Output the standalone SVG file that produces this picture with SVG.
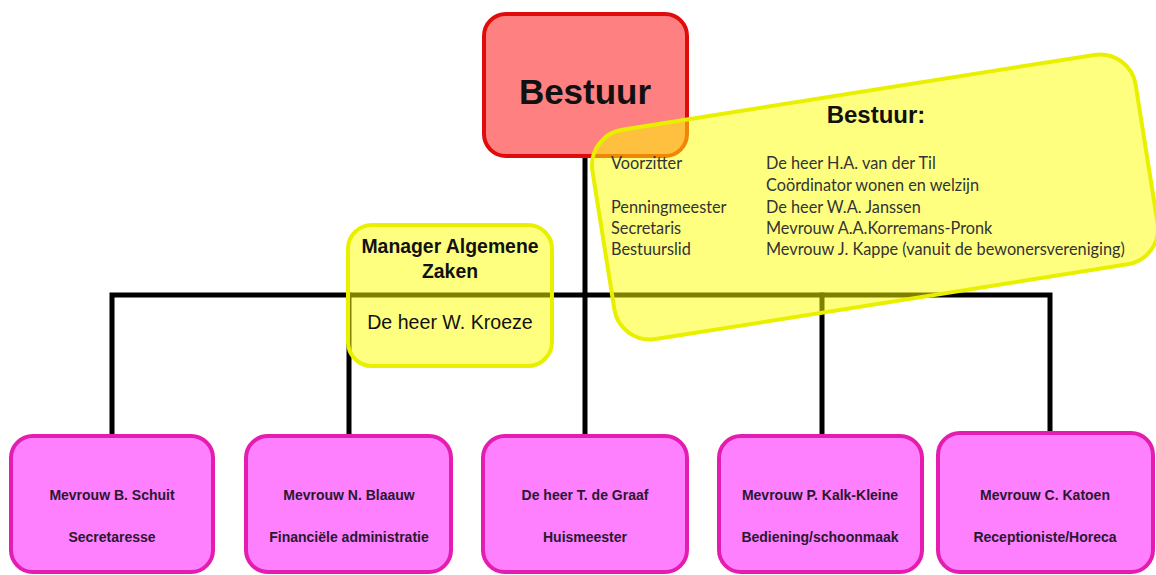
<svg xmlns="http://www.w3.org/2000/svg" width="1156" height="575" viewBox="0 0 1156 575">
<style>
.conn{stroke:#000;stroke-width:5;fill:none;stroke-linecap:square}
.staff rect{fill:#ff80ff;stroke:#e41cb0;stroke-width:4}
.staff text{font-family:"Liberation Sans",Arial,sans-serif;font-weight:bold;font-size:14px;fill:#2a1830;text-anchor:middle}
.yel{fill:#ffff00;fill-opacity:0.5;stroke:#e8f000;stroke-width:4}
.b{font-family:"Liberation Sans",Arial,sans-serif;font-weight:bold;fill:#111;text-anchor:middle}
.cal{font-family:Lato,"Liberation Sans",sans-serif;font-size:16.3px;fill:#333}
</style>
<rect width="1156" height="575" fill="#fff"/>
<g id="connectors">
<line class="conn" x1="585" y1="157" x2="585" y2="436"/>
<polyline class="conn" points="112,436 112,295 1050,295 1050,433"/>
<line class="conn" x1="349" y1="295" x2="349" y2="436"/>
<line class="conn" x1="822" y1="295" x2="822" y2="436"/>
</g>
<g id="bestuur">
<rect x="484" y="14" width="203" height="142" rx="22" fill="#ff8080" stroke="#e00c0c" stroke-width="4"/>
<text class="b" x="585" y="104" font-size="35">Bestuur</text>
</g>
<g id="schuit" class="staff">
<rect x="11" y="436" width="202" height="136" rx="22"/>
<text x="112" y="500">Mevrouw B. Schuit</text>
<text x="112" y="542">Secretaresse</text>
</g>
<g id="blaauw" class="staff">
<rect x="246" y="436" width="205" height="136" rx="22"/>
<text x="349" y="500">Mevrouw N. Blaauw</text>
<text x="349" y="542">Financiële administratie</text>
</g>
<g id="graaf" class="staff">
<rect x="483" y="436" width="204" height="136" rx="22"/>
<text x="585" y="500">De heer T. de Graaf</text>
<text x="585" y="542">Huismeester</text>
</g>
<g id="kalk" class="staff">
<rect x="719" y="436" width="203" height="136" rx="22"/>
<text x="820" y="500">Mevrouw P. Kalk-Kleine</text>
<text x="820" y="542">Bediening/schoonmaak</text>
</g>
<g id="katoen" class="staff">
<rect x="938" y="433" width="215" height="139" rx="22"/>
<text x="1045" y="500">Mevrouw C. Katoen</text>
<text x="1045" y="542">Receptioniste/Horeca</text>
</g>
<g id="manager">
<rect class="yel" x="348" y="225" width="204" height="141" rx="24"/>
<text class="b" x="450" y="253" font-size="19.4">Manager Algemene</text>
<text class="b" x="450" y="278" font-size="19.4">Zaken</text>
<text x="450" y="329" font-size="19.6" font-family="Liberation Sans,Arial,sans-serif" fill="#111" text-anchor="middle">De heer W. Kroeze</text>
</g>
<g id="bestuur-info">
<rect class="yel" x="600" y="91" width="550" height="212" rx="36" transform="rotate(-9 875 197)"/>
<text class="b" x="876" y="123" font-size="24">Bestuur:</text>
<text class="cal" x="611" y="169">Voorzitter</text>
<text class="cal" x="766" y="169">De heer H.A. van der Til</text>
<text class="cal" x="766" y="191">Coördinator wonen en welzijn</text>
<text class="cal" x="611" y="213">Penningmeester</text>
<text class="cal" x="766" y="213">De heer W.A. Janssen</text>
<text class="cal" x="611" y="234">Secretaris</text>
<text class="cal" x="766" y="234">Mevrouw A.A.Korremans-Pronk</text>
<text class="cal" x="611" y="255">Bestuurslid</text>
<text class="cal" x="766" y="255">Mevrouw J. Kappe (vanuit de bewonersvereniging)</text>
</g>
</svg>
